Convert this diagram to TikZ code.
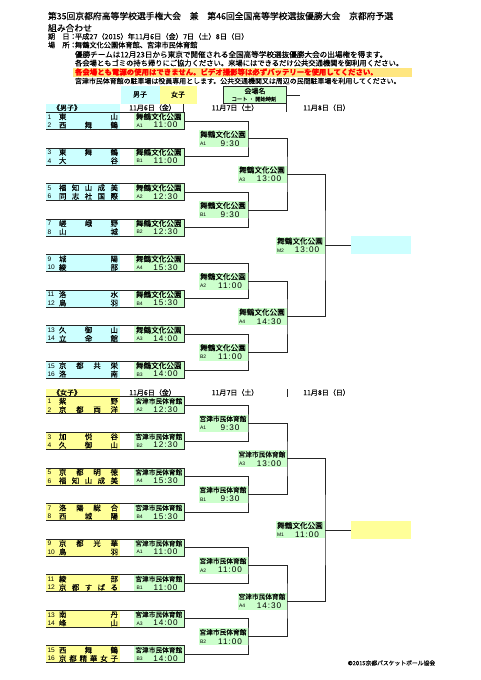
\documentclass[tikz,border=0pt]{standalone}
\usepackage{fontspec}
\setmainfont{Noto Sans CJK JP}[FakeBold=0.2]
\newfontfamily\arialf{Liberation Sans}
\newfontfamily\tfnt[LetterSpace=12]{Liberation Sans}
\definecolor{cy}{HTML}{CCFFFF}
\definecolor{ye}{HTML}{FFFF99}
\definecolor{gr}{HTML}{CCFFCC}
\definecolor{ln}{HTML}{262626}
\definecolor{rbg}{HTML}{FFE680}
\newcommand\VenM{\fontsize{7.6}{8}\selectfont 舞鶴文化公園}
\newcommand\VenQ{\fontsize{6.7}{8}\selectfont 宮津市民体育館}
\newcommand\hf{\hfill{}}
\tikzset{
  brk/.style={draw=ln, line width=0.8pt},
  mbox/.style={draw=ln, line width=1pt},
  txt/.style={inner sep=0pt, outer sep=0pt},
  nfont/.style={font=\fontsize{7.4}{8}\selectfont},
  numf/.style={font=\arialf\fontsize{6.6}{8}\selectfont},
  cfont/.style={font=\arialf\fontsize{5}{6}\selectfont},
  tf/.style={font=\tfnt\fontsize{8.2}{9}\selectfont},
  hd/.style={txt, anchor=west, font=\fontsize{8.8}{10}\selectfont},
  sm/.style={txt, anchor=west},
  datef/.style={txt, font=\fontsize{7}{8}\selectfont},
}
% first-round match: #1 index, #2 colour, #3 num1, #4 name1, #5 num2, #6 name2, #7 venue, #8 code, #9 time
\newcommand\FRm[9]{%
  \pgfmathsetmacro\myT{112.5+35.56*#1}%
  \fill[#2] (46,\myT+0.5) rectangle (120,\myT+16.5);
  \fill[gr] (134,\myT+0.5) rectangle (183.5,\myT+16.5);
  \draw[mbox] (46,\myT) -- (184,\myT) -- (184,\myT+17) -- (46,\myT+17);
  \node[txt,anchor=west,numf] (na#1) at (47.5,\myT+4.4) {#3};
  \node[txt,anchor=west,nfont] (ta#1) at (59,\myT+4.2) {\makebox[59pt][s]{#4}};
  \node[txt,anchor=west,numf] (nb#1) at (47.5,\myT+12.8) {#5};
  \node[txt,anchor=west,nfont] (tb#1) at (59,\myT+12.6) {\makebox[59pt][s]{#6}};
  \node[txt] (v#1) at (158.8,\myT+4.2) {#7};
  \node[txt,anchor=west,cfont] (c#1) at (136.5,\myT+13) {#8};
  \node[txt,tf] (t#1) at (165.5,\myT+12.6) {#9};
  \coordinate (m#1) at (184,\myT+8.5);
}
% label: #1 name, #2 x right, #3 y mid, #4 venue, #5 code, #6 time
\newcommand\LBl[6]{%
  \fill[gr] (#2-49.5,#3-8.5) rectangle (#2-0.5,#3+8.5);
  \node[txt] (#1v) at (#2-25,#3-4.4) {#4};
  \node[txt,anchor=west,cfont] (#1c) at (#2-48,#3+5) {#5};
  \node[txt,tf] (#1t) at (#2-18,#3+4.6) {#6};
}
\begin{document}
\begin{tikzpicture}[x=1pt,y=-1pt]
\useasboundingbox (0,0) rectangle (481,680);
\fill[white] (0,0) rectangle (481,680);

% ---------- header ----------
\node[hd] (title) at (48,16) {第35回京都府高等学校選手権大会　兼　第46回全国高等学校選抜優勝大会　京都府予選};
\node[hd] (sub) at (48,28) {組み合わせ};
\node[sm,font=\fontsize{7.2}{8}\selectfont] (kiL) at (48,36.5) {期　日：};
\node[sm,font=\fontsize{7.2}{8}\selectfont] (ki) at (75,36.5) {平成27（2015）年11月6日（金）7日（土）8日（日）};
\node[sm,font=\fontsize{7.2}{8}\selectfont] (baL) at (48,45) {場　所：};
\node[sm,font=\fontsize{7.2}{8}\selectfont] (ba) at (75,45) {舞鶴文化公園体育館、宮津市民体育館};
\node[sm,font=\fontsize{7.6}{8}\selectfont] (n1) at (75,54.5) {優勝チームは12月23日から東京で開催される全国高等学校選抜優勝大会の出場権を得ます。};
\node[sm,font=\fontsize{7.3}{8}\selectfont] (n2) at (75,63) {各会場ともゴミの持ち帰りにご協力ください。来場にはできるだけ公共交通機関を御利用ください。};
\fill[rbg] (73,67.5) rectangle (412,77);
\node[sm,font=\bfseries\fontsize{7.4}{8}\selectfont,text=red] (n3) at (75,72) {各会場とも電源の使用はできません。ビデオ撮影等は必ずバッテリーを使用してください。};
\node[sm,font=\fontsize{6.95}{8}\selectfont] (n4) at (75,81) {宮津市民体育館の駐車場は役員専用とします。公共交通機関又は周辺の民間駐車場を利用してください。};

% ---------- legend ----------
\fill[cy] (121,86) rectangle (159.5,103.5);
\fill[ye] (159.5,86) rectangle (197,103.5);
\node[datef] (lgB) at (140,94.5) {男子};
\node[datef] (lgG) at (178,94.5) {女子};
\fill[gr] (223,86) rectangle (286,103.5);
\draw[ln,line width=0.5pt] (223,86) rectangle (286,103.5);
\node[datef] (lgV) at (255,91) {会場名};
\node[txt,font=\fontsize{5.3}{6}\selectfont] (lgC) at (254,99) {コート ・ 開始時刻};
\coordinate (lgE) at (300,95);
\draw[brk] (286,95) -- (lgE);
\draw[brk] (286.5,86) -- (286.5,112);
\draw[brk] (183.5,104) -- (183.5,112);

% ---------- boys header ----------
\fill[cy] (46,104) rectangle (120,111.5);
\node[datef] (bh) at (67,107.7) {《男子》};
\node[datef] (bd6) at (152.5,107.7) {11月6日（金）};
\node[datef] (bd7) at (235,107.7) {11月7日（土）};
\node[datef] (bd8) at (326.5,107.7) {11月8日（日）};

% ---------- girls header ----------
\fill[ye] (46,388.5) rectangle (120,396.5);
\node[datef] (gh) at (67,392.5) {《女子》};
\node[datef] (gd6) at (152.5,392.5) {11月6日（金）};
\node[datef] (gd7) at (235,392.5) {11月7日（土）};
\node[datef] (gd8) at (326.5,392.5) {11月8日（日）};
\draw[brk] (287,389) -- (287,397);

% ---------- first round: boys ----------
\FRm{0}{cy}{1}{東\hf 山}{2}{西\hf 舞\hf 鶴}{\VenM}{A1}{11:00}
\FRm{1}{cy}{3}{東\hf 舞\hf 鶴}{4}{大\hf 谷}{\VenM}{B1}{11:00}
\FRm{2}{cy}{5}{福\hf 知\hf 山\hf 成\hf 美}{6}{同\hf 志\hf 社\hf 国\hf 際}{\VenM}{A2}{12:30}
\FRm{3}{cy}{7}{嵯\hf 峨\hf 野}{8}{山\hf 城}{\VenM}{B2}{12:30}
\FRm{4}{cy}{9}{城\hf 陽}{10}{綾\hf 部}{\VenM}{A4}{15:30}
\FRm{5}{cy}{11}{洛\hf 水}{12}{鳥\hf 羽}{\VenM}{B4}{15:30}
\FRm{6}{cy}{13}{久\hf 御\hf 山}{14}{立\hf 命\hf 館}{\VenM}{A3}{14:00}
\FRm{7}{cy}{15}{京\hf 都\hf 共\hf 栄}{16}{洛\hf 南}{\VenM}{B3}{14:00}
% ---------- first round: girls ----------
\FRm{8}{ye}{1}{紫\hf 野}{2}{京\hf 都\hf 両\hf 洋}{\VenQ}{A2}{12:30}
\FRm{9}{ye}{3}{加\hf 悦\hf 谷}{4}{久\hf 御\hf 山}{\VenQ}{B2}{12:30}
\FRm{10}{ye}{5}{京\hf 都\hf 明\hf 徳}{6}{福\hf 知\hf 山\hf 成\hf 美}{\VenQ}{A4}{15:30}
\FRm{11}{ye}{7}{洛\hf 陽\hf 総\hf 合}{8}{西\hf 城\hf 陽}{\VenQ}{B4}{15:30}
\FRm{12}{ye}{9}{京\hf 都\hf 光\hf 華}{10}{鳥\hf 羽}{\VenQ}{A1}{11:00}
\FRm{13}{ye}{11}{綾\hf 部}{12}{京\hf 都\hf す\hf ば\hf る}{\VenQ}{B1}{11:00}
\FRm{14}{ye}{13}{南\hf 丹}{14}{峰\hf 山}{\VenQ}{A3}{14:00}
\FRm{15}{ye}{15}{西\hf 舞\hf 鶴}{16}{京\hf 都\hf 精\hf 華\hf 女\hf 子}{\VenQ}{B3}{14:00}

% ---------- level 2 ----------
\LBl{L20}{248}{138.78}{\VenM}{A1}{9:30}
\LBl{L21}{248}{209.90}{\VenM}{B1}{9:30}
\LBl{L22}{248}{281.02}{\VenM}{A2}{11:00}
\LBl{L23}{248}{352.14}{\VenM}{B2}{11:00}
\LBl{L24}{248}{423.26}{\VenQ}{A1}{9:30}
\LBl{L25}{248}{494.38}{\VenQ}{B1}{9:30}
\LBl{L26}{248}{565.50}{\VenQ}{A2}{11:00}
\LBl{L27}{248}{636.62}{\VenQ}{B2}{11:00}
\coordinate (q0) at (248,138.78);
\coordinate (q1) at (248,209.90);
\coordinate (q2) at (248,281.02);
\coordinate (q3) at (248,352.14);
\coordinate (q4) at (248,423.26);
\coordinate (q5) at (248,494.38);
\coordinate (q6) at (248,565.50);
\coordinate (q7) at (248,636.62);
% ---------- level 3 ----------
\LBl{L30}{287}{174.34}{\VenM}{A3}{13:00}
\LBl{L31}{287}{316.58}{\VenM}{A4}{14:30}
\LBl{L32}{287}{458.82}{\VenQ}{A3}{13:00}
\LBl{L33}{287}{601.06}{\VenQ}{A4}{14:30}
\coordinate (r0) at (287,174.34);
\coordinate (r1) at (287,316.58);
\coordinate (r2) at (287,458.82);
\coordinate (r3) at (287,601.06);
% ---------- level 4 ----------
\LBl{L40}{325}{245.46}{\VenM}{M2}{13:00}
\LBl{L41}{325}{529.94}{\VenM}{M1}{11:00}
\coordinate (f0) at (325,245.46);
\coordinate (f1) at (325,529.94);
\node[txt,fill=cy,minimum width=60pt,minimum height=18pt,anchor=west] (win0) at (351,245.46) {};
\node[txt,fill=ye,minimum width=60pt,minimum height=18pt,anchor=west] (win1) at (351,529.94) {};

% ---------- bracket lines ----------
\foreach \j in {0,...,7} {
  \pgfmathtruncatemacro\ja{2*\j}
  \pgfmathtruncatemacro\jb{2*\j+1}
  \draw[brk] (m\ja) -| (q\j) |- (m\jb);
}
\foreach \k in {0,...,3} {
  \pgfmathtruncatemacro\ka{2*\k}
  \pgfmathtruncatemacro\kb{2*\k+1}
  \draw[brk] (q\ka) -| (r\k) |- (q\kb);
}
\foreach \n in {0,1} {
  \pgfmathtruncatemacro\na{2*\n}
  \pgfmathtruncatemacro\nb{2*\n+1}
  \draw[brk] (r\na) -| (f\n) |- (r\nb);
  \draw[brk] (f\n) -- (win\n.west);
}

% ---------- footer ----------
\node[txt,font=\fontsize{5.8}{7}\selectfont] (copy) at (391.5,663) {©2015京都バスケットボール協会};
\end{tikzpicture}
\end{document}
